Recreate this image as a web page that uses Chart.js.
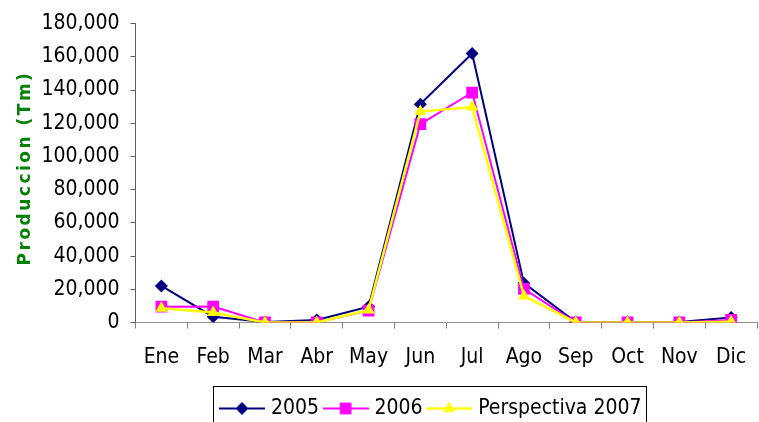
<!DOCTYPE html>
<html>
<head>
<meta charset="utf-8">
<script src="https://cdn.jsdelivr.net/npm/chart.js@4/dist/chart.umd.min.js"></script>
<style>
  html, body { margin: 0; padding: 0; background: #fff; }
  #wrap { width: 759px; height: 422px; position: relative; }
</style>
</head>
<body>
<div id="wrap"><canvas id="c" width="759" height="422"></canvas></div>
<script>
const categories = ['Ene', 'Feb', 'Mar', 'Abr', 'May', 'Jun', 'Jul', 'Ago', 'Sep', 'Oct', 'Nov', 'Dic'];
const serie2005 = [22000, 3500, 300, 1500, 9500, 131500, 162000, 23700, 300, 300, 300, 3000];
const serie2006 = [9500, 9600, 0, 0, 7200, 119400, 138500, 20300, 0, 0, 0, 1500];
const serie2007 = [8500, 6000, 0, 0, 7500, 127000, 129700, 16000, 0, 0, 0, 500];
const seriesNames = ['2005', '2006', 'Perspectiva 2007'];
const yTicks = [0, 20000, 40000, 60000, 80000, 100000, 120000, 140000, 160000, 180000];

const TICK_FONT = { family: "'DejaVu Sans Condensed', 'DejaVu Sans', sans-serif", size: 21 };

class SpacedLinear extends Chart.LinearScale {
  drawTitle(...args) {
    const ctx = this.ctx;
    ctx.save();
    ctx.letterSpacing = '2.5px';
    ctx.translate(0, -5);
    super.drawTitle(...args);
    ctx.restore();
  }
}
SpacedLinear.id = 'spacedLinear';
SpacedLinear.defaults = Chart.LinearScale.defaults;
Chart.register(SpacedLinear);

function legendImage(color, style, radius, lw) {
  const cv = document.createElement('canvas');
  cv.width = 46; cv.height = 18;
  const c = cv.getContext('2d');
  c.strokeStyle = color; c.lineWidth = lw;
  c.beginPath(); c.moveTo(0, 9); c.lineTo(46, 9); c.stroke();
  c.fillStyle = color;
  c.beginPath();
  if (style === 'rectRot') {
    c.moveTo(23, 9 - radius); c.lineTo(23 + radius, 9); c.lineTo(23, 9 + radius); c.lineTo(23 - radius, 9); c.closePath();
  } else if (style === 'rect') {
    const s = radius * Math.SQRT1_2;
    c.rect(23 - s, 9 - s, 2 * s, 2 * s);
  } else {
    c.moveTo(23, 9 - radius);
    c.lineTo(23 + radius * 0.866, 9 + radius / 2);
    c.lineTo(23 - radius * 0.866, 9 + radius / 2);
    c.closePath();
  }
  c.fill();
  return cv;
}

const styles = [
  { color: '#000080', point: 'rectRot', radius: 6.5, lw: 2 },
  { color: '#FF00FF', point: 'rect', radius: 8.3, lw: 2 },
  { color: '#FFFF00', point: 'triangle', radius: 7, lw: 2.5 }
];
const legendImgs = styles.map(s => legendImage(s.color, s.point, s.radius, s.lw));

const LEGEND_PAD = 8;
const LEGEND_LEFT = 223.5 - LEGEND_PAD;
const LEGEND_TOP = 390;
const BOX_TOP = 386;

const legendPlugin = {
  id: 'legendPos',
  afterLayout(chart) {
    const lg = chart.legend;
    if (!lg) return;
    const h = lg.height;
    lg.left = LEGEND_LEFT;
    lg.top = LEGEND_TOP;
    lg.bottom = LEGEND_TOP + h;
  },
  afterDraw(chart) {
    const lg = chart.legend;
    if (!lg || !lg.lineWidths) return;
    const x0 = lg.left + LEGEND_PAD;
    const w = lg.lineWidths[0] - LEGEND_PAD;
    const ctx = chart.ctx;
    ctx.save();
    ctx.strokeStyle = '#000';
    ctx.lineWidth = 1;
    ctx.strokeRect(213.5, BOX_TOP + 0.5, Math.round(x0 + w + 4 - 213), 60);
    ctx.restore();
  }
};

const data = {
  labels: categories,
  datasets: [serie2005, serie2006, serie2007].map((vals, i) => ({
    label: seriesNames[i],
    data: vals,
    borderColor: styles[i].color,
    backgroundColor: styles[i].color,
    borderWidth: styles[i].lw,
    pointStyle: styles[i].point,
    pointRadius: styles[i].radius,
    pointHoverRadius: styles[i].radius,
    pointBorderWidth: 0,
    tension: 0,
    order: 2 - i
  }))
};

new Chart(document.getElementById('c'), {
  type: 'line',
  data,
  plugins: [legendPlugin],
  options: {
    responsive: false,
    devicePixelRatio: 1,
    animation: false,
    layout: { autoPadding: false, padding: { left: 15, top: 23, right: 2, bottom: 0 } },
    plugins: {
      tooltip: { enabled: false },
      legend: {
        position: 'bottom',
        align: 'start',
        maxHeight: 35.5,
        labels: {
          usePointStyle: true,
          pointStyleWidth: 37,
          padding: LEGEND_PAD,
          color: '#000',
          font: TICK_FONT,
          sort: (a, b) => a.datasetIndex - b.datasetIndex,
          generateLabels: (chart) => chart.data.datasets.map((ds, i) => ({
            text: ds.label,
            pointStyle: legendImgs[i],
            fillStyle: ds.borderColor,
            strokeStyle: ds.borderColor,
            lineWidth: 0,
            hidden: false,
            datasetIndex: i
          }))
        }
      }
    },
    scales: {
      x: {
        type: 'category',
        offset: true,
        grid: { offset: true, drawOnChartArea: false, drawTicks: true, tickLength: 6, color: '#808080' },
        border: { display: true, color: '#909090', width: 1 },
        ticks: { color: '#000', font: Object.assign({}, TICK_FONT, { lineHeight: 1.62 }), padding: 12, maxRotation: 0, autoSkip: false }
      },
      y: {
        type: 'spacedLinear',
        min: 0,
        max: 180000,
        afterBuildTicks: (scale) => { scale.ticks = yTicks.map(v => ({ value: v })); },
        grid: { drawOnChartArea: false, drawTicks: true, tickLength: 5, color: '#606060' },
        border: { display: true, color: '#606060', width: 1 },
        ticks: {
          color: '#000',
          font: TICK_FONT,
          padding: 11,
          callback: (v) => Number(v).toLocaleString('en-US')
        },
        title: {
          display: true,
          text: 'Produccion (Tm)',
          color: '#008000',
          font: { family: "'DejaVu Sans', sans-serif", size: 17, weight: 'bold' },
          padding: { top: 0, bottom: -5 }
        }
      }
    }
  }
});
</script>
</body>
</html>
